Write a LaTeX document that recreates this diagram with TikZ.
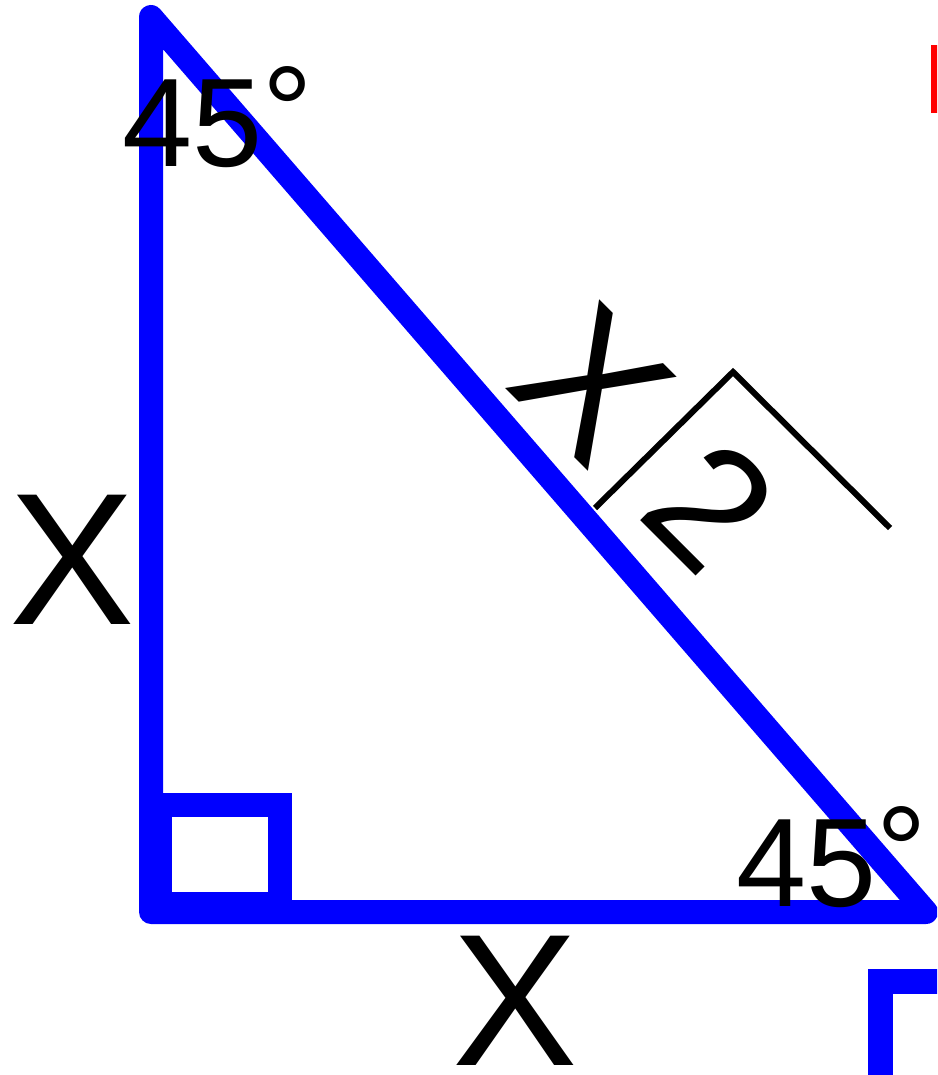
\documentclass[tikz,border=0pt]{standalone}
\usepackage{fontspec}
\setmainfont{Liberation Sans}
\definecolor{cTri}{HTML}{0000FF}
\definecolor{cMark}{HTML}{FF0000}
\tikzset{
  edge/.style={draw=cTri, line width=24pt, line join=round},
  sq/.style={draw=cTri, line width=24pt},
  lblX/.style={font=\fontsize{188}{188}\selectfont, inner sep=0pt},
  lblA/.style={font=\fontsize{126}{126}\selectfont, inner sep=0pt, anchor=base west},
  rad/.style={draw=black, line width=6pt},
}
\begin{document}
\begin{tikzpicture}[x=1pt, y=-1pt]
  \useasboundingbox (0,0) rectangle (937,1075);
  \clip (0,0) rectangle (937,1075);
  % triangle
  \coordinate (A) at (151,17);
  \coordinate (B) at (151,912);
  \coordinate (C) at (926,912);
  \draw[edge] (A) -- (B) -- (C) -- cycle;
  \draw[sq] (160,904) rectangle (279.5,804.5);
  % cut-off pieces at the right edge
  \fill[cMark] (931,45) rectangle (945,113);
  \draw[cTri, line width=25pt] (880.5,1090) -- (880.5,981) -- (950,981);
  % labels
  \node[lblA] (angA) at (122,167) {45\raisebox{12pt}{°}};
  \node[lblA] (angC) at (736,906) {45\raisebox{12pt}{°}};
  \node[lblX] (sideL) at (72.5,559.5) {X};
  \node[lblX] (sideB) at (515,1000.5) {X};
  \node[lblX, rotate=-45] (hypX) at (593,384) {X};
  \node[lblX, font=\fontsize{172}{172}\selectfont, rotate=-45] (hyp2) at (711,506) {2};
  \coordinate (r1) at (595,508);
  \coordinate (r2) at (733,372);
  \coordinate (r3) at (890,528);
  \draw[rad] (r1) -- (r2) -- (r3);
\end{tikzpicture}
\end{document}
